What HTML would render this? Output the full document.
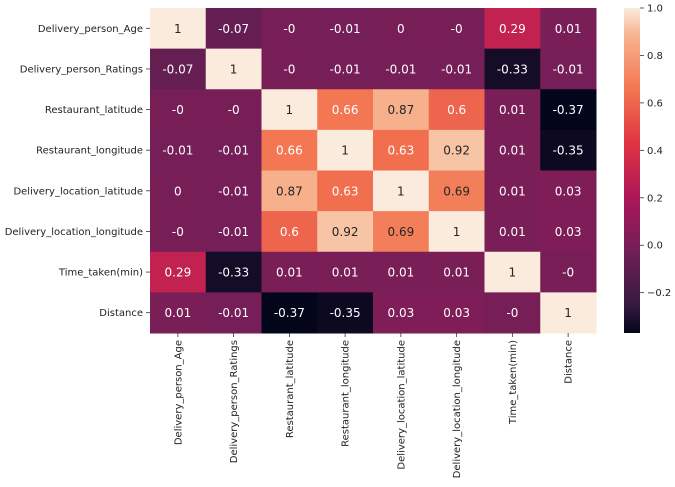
<!DOCTYPE html>
<html><head><meta charset="utf-8"><style>body{margin:0;background:#fff}svg{display:block;font-family:"DejaVu Sans","Liberation Sans",sans-serif}</style></head>
<body>
<svg id="chart" width="675" height="487" xmlns="http://www.w3.org/2000/svg">
<defs><linearGradient id="cb" x1="0" y1="1" x2="0" y2="0"></linearGradient></defs>
</svg>
<script>
const labels = ["Delivery_person_Age","Delivery_person_Ratings","Restaurant_latitude","Restaurant_longitude","Delivery_location_latitude","Delivery_location_longitude","Time_taken(min)","Distance"];
const row0 = [1,-0.07,-0,-0.01,0,-0,0.29,0.01];
const row1 = [-0.07,1,-0,-0.01,-0.01,-0.01,-0.33,-0.01];
const row2 = [-0,-0,1,0.66,0.87,0.6,0.01,-0.37];
const row3 = [-0.01,-0.01,0.66,1,0.63,0.92,0.01,-0.35];
const row4 = [0,-0.01,0.87,0.63,1,0.69,0.01,0.03];
const row5 = [-0,-0.01,0.6,0.92,0.69,1,0.01,0.03];
const row6 = [0.29,-0.33,0.01,0.01,0.01,0.01,1,-0];
const row7 = [0.01,-0.01,-0.37,-0.35,0.03,0.03,-0,1];
const rows = [row0,row1,row2,row3,row4,row5,row6,row7];
const cbTicks = [1.0,0.8,0.6,0.4,0.2,0.0,-0.2];
const vmin=-0.37, vmax=1.0;
const X0=150,X1=596,Y0=8,Y1=333;
const cw=(X1-X0)/labels.length, ch=(Y1-Y0)/labels.length;
const stops=[[0,[3,5,26]],[0.083,[53,25,62]],[0.25,[112,31,87]],[0.417,[173,23,89]],[0.583,[225,51,66]],[0.75,[243,118,81]],[0.917,[246,180,143]],[1,[250,235,221]]];
function cmap(v){let t=(v-vmin)/(vmax-vmin);t=Math.max(0,Math.min(1,t));
 for(let i=1;i<stops.length;i++){if(t<=stops[i][0]){const a=stops[i-1],b=stops[i];const f=(t-a[0])/(b[0]-a[0]);
 const c=a[1].map((x,k)=>Math.round(x+(b[1][k]-x)*f));return `rgb(${c})`;}}return 'rgb(250,235,221)';}
const yc=v=>Y0+(vmax-v)/(vmax-vmin)*(Y1-Y0);
const NS="http://www.w3.org/2000/svg";const svg=document.getElementById('chart');
function mk(tag,attrs,parent){const e=document.createElementNS(NS,tag);for(const k in attrs)e.setAttribute(k,attrs[k]);(parent||svg).appendChild(e);return e;}
const fmt=v=>(Object.is(v,-0))?'-0':String(v);
rows.forEach((r,i)=>r.forEach((v,j)=>{
 const rc=mk('rect',{x:X0+j*cw,y:Y0+i*ch,width:cw+0.5,height:ch+0.5,fill:cmap(v)});
 
 
 const t=mk('text',{x:X0+(j+0.5)*cw,y:Y0+(i+0.5)*ch+4.5,'text-anchor':'middle','font-size':12,fill:v>0.675?'#262626':'#fff'});
 t.textContent=fmt(v);
 
 
}));
labels.forEach((l,i)=>{
 const y=Y0+(i+0.5)*ch;
 mk('line',{x1:X0-4,x2:X0,y1:y,y2:y,stroke:'#333','stroke-width':0.8});
 const t=mk('text',{x:X0-7,y:y+3.5,'text-anchor':'end','font-size':10,fill:'#222'});t.textContent=l;
 
 
 const x=X0+(i+0.5)*cw;
 mk('line',{x1:x,x2:x,y1:Y1,y2:Y1+4,stroke:'#333','stroke-width':0.8});
 const u=mk('text',{x:0,y:0,'text-anchor':'end','font-size':10,fill:'#222',transform:`translate(${x+3.5},${Y1+7}) rotate(-90)`});u.textContent=l;
 
 
});
const g=document.getElementById('cb');
stops.forEach(s=>{const st=document.createElementNS(NS,'stop');st.setAttribute('offset',s[0]);st.setAttribute('stop-color',`rgb(${s[1]})`);g.appendChild(st);});
const cbr=mk('rect',{x:624,y:Y0,width:16,height:Y1-Y0,fill:'url(#cb)'});


cbTicks.forEach(v=>{const y=yc(v);
 mk('line',{x1:640,x2:644,y1:y,y2:y,stroke:'#333','stroke-width':0.8});
 const t=mk('text',{x:647,y:y+3.5,'font-size':10,fill:'#222'});t.textContent=v<0?'\u2212'+Math.abs(v).toFixed(1):v.toFixed(1);
 
 
});
</script>
</body></html>
